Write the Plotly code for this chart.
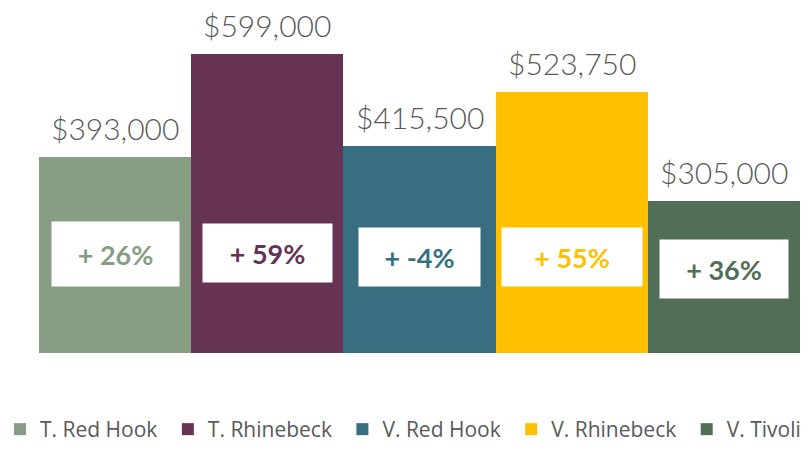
import plotly.graph_objects as go

categories = ["T. Red Hook", "T. Rhinebeck", "V. Red Hook", "V. Rhinebeck", "V. Tivoli"]
values = [393000, 599000, 415500, 523750, 305000]
value_labels = ["$393,000", "$599,000", "$415,500", "$523,750", "$305,000"]
pct_labels = ["+ 26%", "+ 59%", "+ -4%", "+ 55%", "+ 36%"]
pct_box_y = [198000, 200000, 192000, 192000, 168000]

colors = ["#889E84", "#663354", "#376F80", "#FFC000", "#526E56"]
box_w = [127, 129, 121, 140, 128]
box_h = [64, 58, 58, 58, 58]

fig = go.Figure()
for i, (c, v, col) in enumerate(zip(categories, values, colors)):
    # a trailing no-break space widens the gap between legend entries
    legend_name = c + ("\u00a0" if i < len(categories) - 1 else "")
    fig.add_trace(go.Bar(x=[c], y=[v], name=legend_name,
                         marker=dict(color=col, line=dict(width=0)),
                         hoverinfo="skip"))

for i, (c, v, lab) in enumerate(zip(categories, values, value_labels)):
    fig.add_annotation(x=c, y=v, text=lab, showarrow=False, yanchor="bottom", yshift=9,
                       font=dict(family="Lato", size=30, color="#595959", weight=300))

for i, (c, p) in enumerate(zip(categories, pct_labels)):
    fig.add_annotation(x=c, y=pct_box_y[i], text="<b>" + p + "</b>", showarrow=False,
                       xanchor="center", yanchor="middle", width=box_w[i], height=box_h[i],
                       bgcolor="white", borderpad=0,
                       font=dict(family="Lato", size=27, color=colors[i]))

fig.update_layout(
    width=808, height=450,
    margin=dict(l=39, r=0, t=10, b=97, autoexpand=False),
    paper_bgcolor="white", plot_bgcolor="white",
    barmode="overlay", bargap=0,
    showlegend=True,
    legend=dict(orientation="h", x=-0.0507, xanchor="left", y=-0.2828, yanchor="bottom",
                font=dict(family="Open Sans", size=21, color="#595959"),
                traceorder="normal", itemclick=False),
    xaxis=dict(visible=False, categoryorder="array", categoryarray=categories,
               range=[-0.5, 4.5526]),
    yaxis=dict(visible=False, range=[0, 687000]),
)

fig.write_html("out.html", post_script="document.body.style.margin='0';",
               config={"displayModeBar": False})
